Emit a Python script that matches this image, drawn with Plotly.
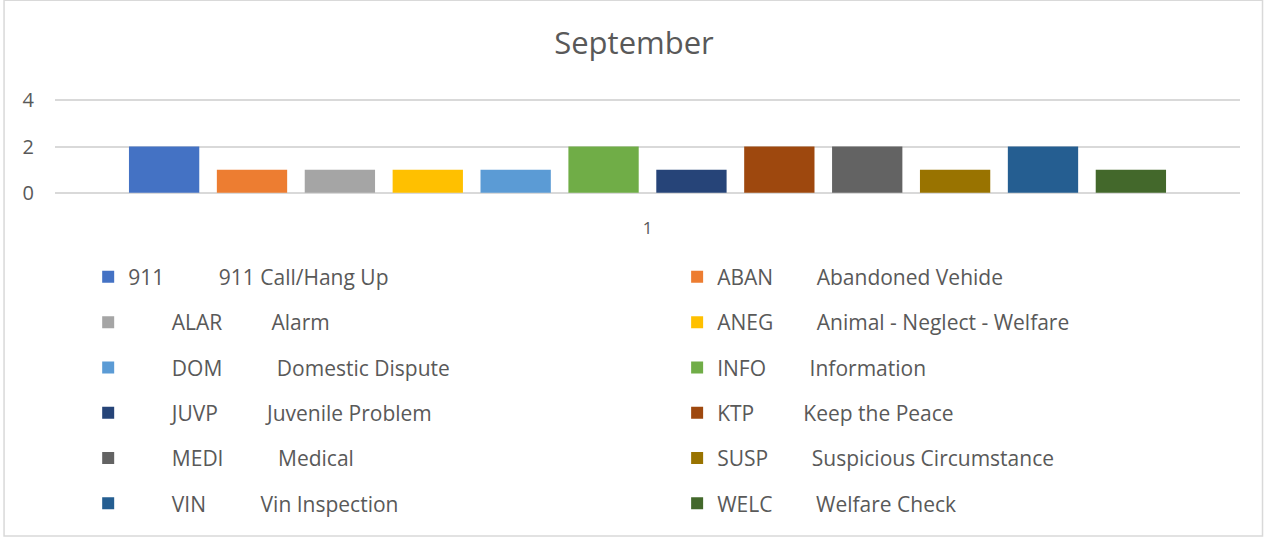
import plotly.graph_objects as go

# one category, one bar per call type
category = ["1"]
codes = ["911", "ABAN", "ALAR", "ANEG", "DOM", "INFO", "JUVP", "KTP", "MEDI", "SUSP", "VIN", "WELC"]
descriptions = ["911 Call/Hang Up", "Abandoned Vehide", "Alarm", "Animal - Neglect - Welfare",
                "Domestic Dispute", "Information", "Juvenile Problem", "Keep the Peace",
                "Medical", "Suspicious Circumstance", "Vin Inspection", "Welfare Check"]
counts = [2, 1, 1, 1, 1, 2, 1, 2, 2, 1, 2, 1]
colors = ["#4472C4", "#ED7D31", "#A5A5A5", "#FFC000", "#5B9BD5", "#70AD47",
          "#264478", "#9E480E", "#636363", "#997300", "#255E91", "#43682B"]

# spacing (nbsp) before code and between code and description, mimicking the tabbed labels
lead = [0, 0, 8, 0, 8, 0, 8, 0, 8, 0, 8, 0]
gap = [10, 8, 9, 8, 10, 8, 9, 9, 10, 8, 10, 8]

NB = "\u00a0"
fig = go.Figure()
for i, code in enumerate(codes):
    name = NB * lead[i] + code + NB * gap[i] + descriptions[i]
    fig.add_trace(go.Bar(
        x=category, y=[counts[i]], name=name,
        marker=dict(color=colors[i], line=dict(width=0)),
        legend="legend" if i % 2 == 0 else "legend2",
        legendgroup=code,
    ))

font = "Open Sans"
leg_common = dict(
    orientation="v", yanchor="top", y=-0.66, tracegroupgap=15,
    font=dict(family=font, size=21, color="#595959"),
    bgcolor="rgba(0,0,0,0)", traceorder="grouped",
)

fig.update_layout(
    width=1268, height=540,
    margin=dict(l=55, r=28, t=99, b=346),
    paper_bgcolor="white", plot_bgcolor="white",
    title=dict(text="September", x=0.5, xref="container", y=0.92, yanchor="middle",
               font=dict(family=font, size=31, color="#595959")),
    barmode="group", bargap=0.11, bargroupgap=0.2,
    showlegend=True,
    legend=dict(x=0.028, xanchor="left", **leg_common),
    legend2=dict(x=0.525, xanchor="left", **leg_common),
    xaxis=dict(showgrid=False, showline=False, ticks="", ticklabelstandoff=22,
               tickfont=dict(family=font, size=17, color="#595959")),
    yaxis=dict(range=[-0.05, 4.05], tickvals=[0, 2, 4], showgrid=True, gridcolor="#D9D9D9",
               gridwidth=1.5, zeroline=False, showline=False, ticklabelstandoff=20,
               tickfont=dict(family=font, size=20, color="#595959")),
    shapes=[dict(type="rect", xref="paper", yref="paper",
                 x0=-0.043, x1=1.019, y0=-3.60, y1=2.04,
                 line=dict(color="#D9D9D9", width=1.5), layer="below")],
)

# page body has a default 8px margin; remove it so the figure sits at the window origin
fig.write_html("out.html", config={"displayModeBar": False},
               post_script="document.body.style.margin='0';")
